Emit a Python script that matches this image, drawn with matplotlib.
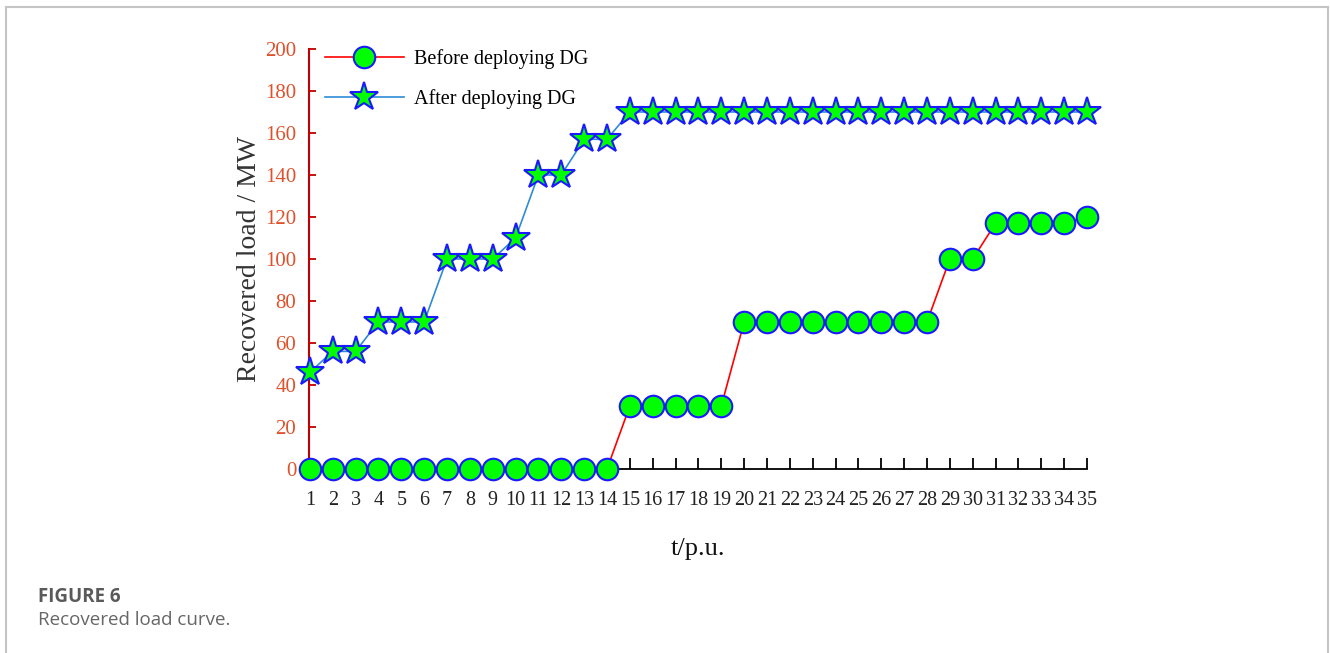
import matplotlib
matplotlib.use("Agg")
import matplotlib.pyplot as plt
from matplotlib.lines import Line2D

# time steps and recovered load (MW)
t = list(range(1, 36))
before_dg = [0] * 14 + [30] * 5 + [70] * 9 + [100] * 2 + [117] * 4 + [120]
after_dg = [46, 56, 56, 70, 70, 70, 100, 100, 100, 110, 140, 140, 157, 157] + [170] * 21
y_ticks = list(range(0, 201, 20))

fig = plt.figure(figsize=(13.3, 6.53), dpi=100)
ax = fig.add_axes([0.2321, 0.2818, 0.5852, 0.6432])

serif = "Liberation Serif"

ax.plot(t, before_dg, color="#ff0000", linewidth=1.2, marker="o", markersize=15.5,
        markerfacecolor="#00ff00", markeredgecolor="#1a1aff", markeredgewidth=1.5,
        label="Before deploying DG", clip_on=False, zorder=4)
ax.plot(t, after_dg, color="#2e8bd6", linewidth=1.2, marker="*", markersize=21,
        markerfacecolor="#00ff00", markeredgecolor="#1a1aff", markeredgewidth=1.5,
        label="After deploying DG", clip_on=False, zorder=4)

ax.set_xlim(0.95, 35)
ax.set_ylim(0, 200)
ax.set_xticks(t)
ax.set_xticklabels([str(v) for v in t], fontfamily=serif, fontsize=14.5, color="#222222")
ax.set_yticks(y_ticks)
ax.set_yticklabels([str(v) for v in y_ticks], fontfamily=serif, fontsize=15, color="#e0502a")

# spines
ax.spines["top"].set_visible(False)
ax.spines["right"].set_visible(False)
ax.spines["left"].set_color("#c00000")
ax.spines["left"].set_linewidth(1.5)
ax.spines["bottom"].set_color("black")
ax.spines["bottom"].set_linewidth(1.3)
ax.tick_params(axis="y", direction="in", length=5, width=1.3, color="#c00000", pad=9)
ax.tick_params(axis="x", direction="in", length=8, width=1.3, color="black", pad=16)

ax.set_ylabel("Recovered load / MW", fontfamily=serif, fontsize=20, color="#333333", labelpad=2)
ax.set_xlabel("t/p.u.", fontfamily=serif, fontsize=19, color="#111111", labelpad=20)

ax.legend(loc="upper left", bbox_to_anchor=(0.2444, 0.925), bbox_transform=fig.transFigure,
          frameon=False, borderaxespad=0, borderpad=0, handlelength=3.9, handletextpad=0.5,
          labelspacing=1.0, prop={"family": serif, "size": 14.5})

# caption
fig.text(0.0286, 0.086, "FIGURE 6", fontfamily="Open Sans", fontweight="bold",
         fontsize=13.5, color="#5a5a5a", va="center")
fig.text(0.0286, 0.051, "Recovered load curve.", fontfamily="Open Sans",
         fontsize=13.5, color="#666666", va="center")

# light frame around the figure panel
frame = dict(color="#c4c4c4", linewidth=1.5, transform=fig.transFigure)
fig.add_artist(Line2D([0.0048, 0.0048], [0.0, 0.9893], **frame))
fig.add_artist(Line2D([0.0048, 0.9988], [0.9893, 0.9893], **frame))
fig.add_artist(Line2D([0.9988, 0.9988], [0.0, 0.9893], **frame))

fig.savefig("out.png", dpi=100)
plt.close(fig)
